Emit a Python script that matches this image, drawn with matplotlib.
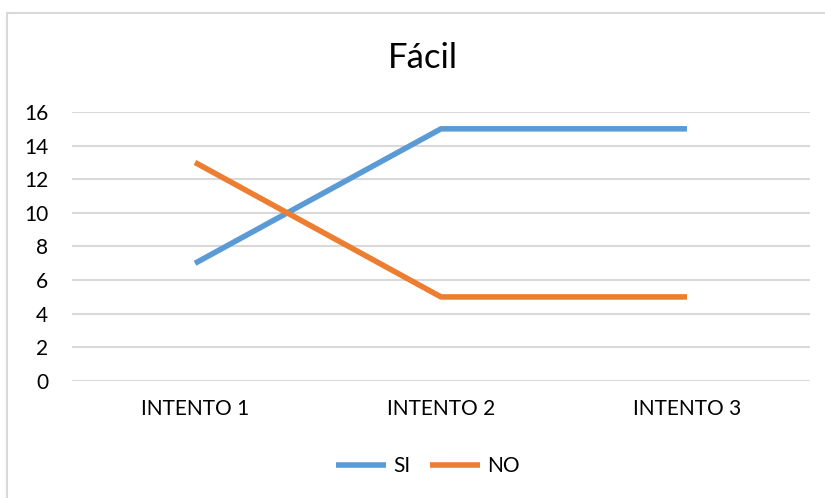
import matplotlib
matplotlib.use('Agg')
import matplotlib.pyplot as plt
from matplotlib.patches import Rectangle

categories = ['INTENTO 1', 'INTENTO 2', 'INTENTO 3']
si_values = [7, 15, 15]
no_values = [13, 5, 5]
y_ticks = [0, 2, 4, 6, 8, 10, 12, 14, 16]

plt.rcParams['font.family'] = ['Lato', 'DejaVu Sans']

fig = plt.figure(figsize=(8.25, 4.98), dpi=100)
# chart area frame
fig.patches.append(Rectangle((7 / 825, -0.1), 1.0, 1 - 13 / 498 + 0.1,
                             transform=fig.transFigure, fill=False,
                             edgecolor='#D9D9D9', linewidth=1.5))

ax = fig.add_axes([72 / 825, 1 - 381 / 498, (810 - 72) / 825, (381 - 112) / 498])
x = list(range(len(categories)))
ax.plot(x, si_values, color='#5B9BD5', linewidth=4, label='SI',
        solid_capstyle='butt', zorder=3)
ax.plot(x, no_values, color='#ED7D31', linewidth=4, label='NO',
        solid_capstyle='butt', zorder=3)

ax.set_xlim(-0.5, 2.5)
ax.set_ylim(0, 16)
ax.set_yticks(y_ticks)
ax.set_xticks(x)
ax.set_xticklabels(categories)
ax.tick_params(axis='both', length=0, labelsize=15, colors='#000000')
ax.tick_params(axis='x', pad=13)
ax.tick_params(axis='y', pad=17)
ax.grid(axis='y', color='#D9D9D9', linewidth=1.5)
ax.set_axisbelow(True)
for s in ax.spines.values():
    s.set_visible(False)

fig.text(423 / 825, 1 - 58 / 498, 'Fácil', ha='center', va='center', fontsize=25)

fig.legend(loc='center', bbox_to_anchor=(428 / 825, 1 - 466 / 498), ncol=2,
           frameon=False, fontsize=15, handlelength=2.4, handletextpad=0.35,
           columnspacing=0.9)

fig.savefig('out.png', dpi=100)
